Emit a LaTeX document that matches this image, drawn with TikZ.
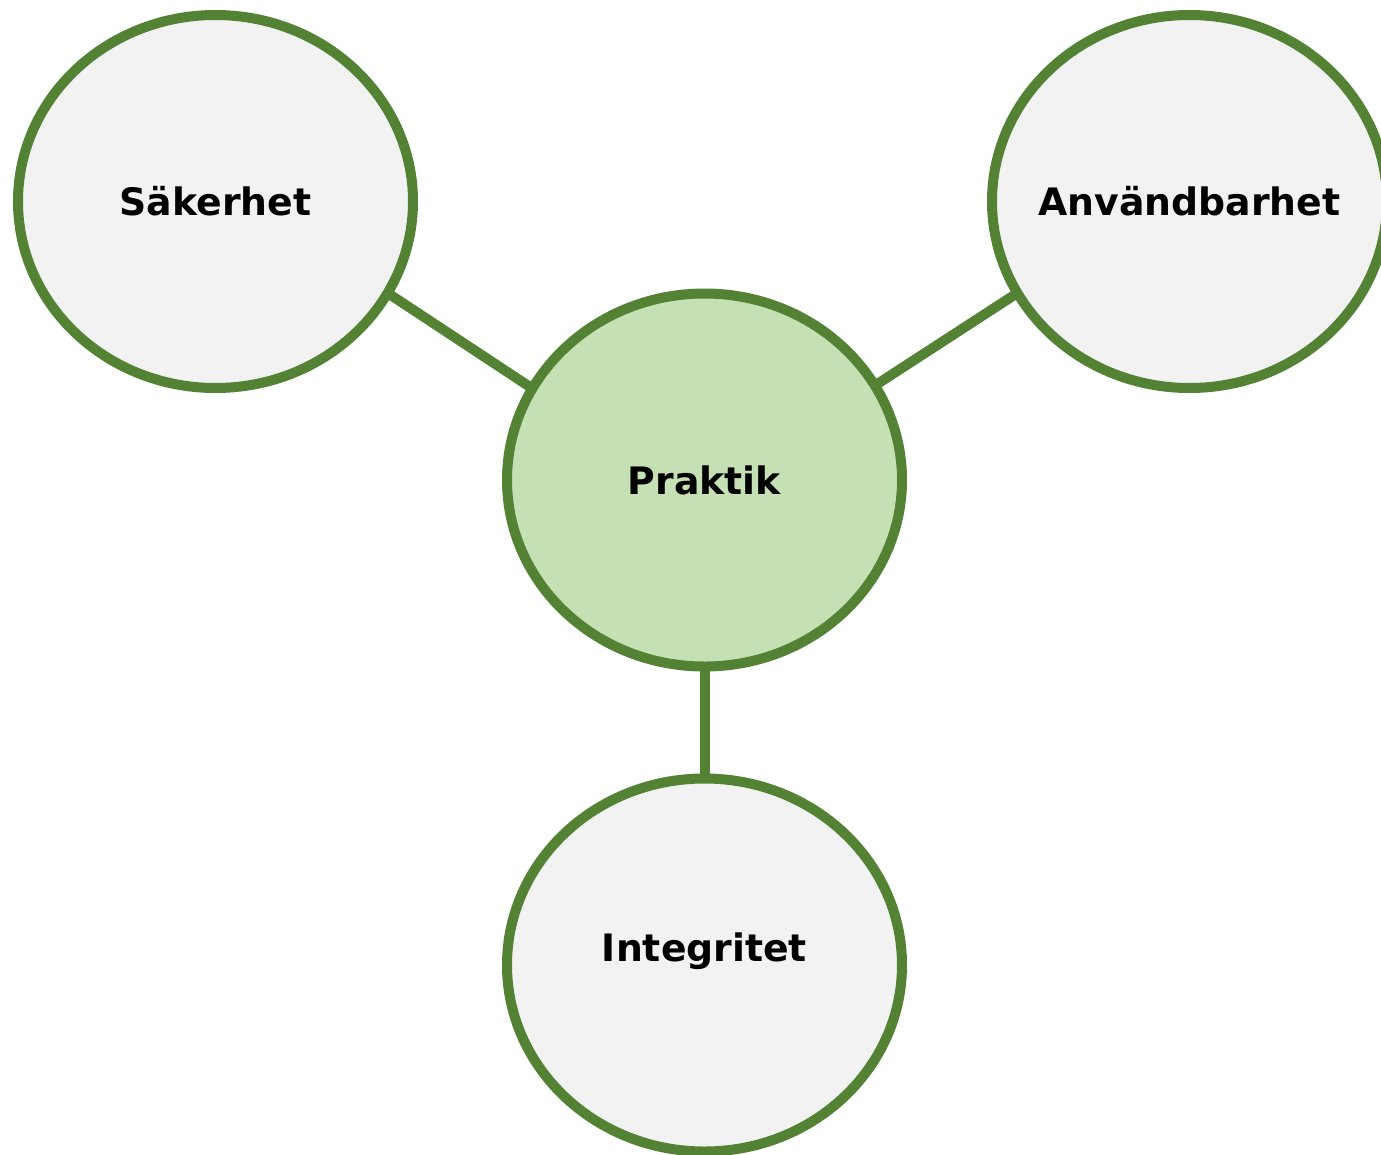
\documentclass[tikz,border=0pt]{standalone}
\usepackage{fontspec}
\setmainfont{DejaVu Sans}
\usetikzlibrary{shapes.geometric, positioning}
\definecolor{ringgreen}{HTML}{548235}
\definecolor{palegreen}{HTML}{C5E0B4}
\definecolor{palegrey}{HTML}{F2F2F2}

\begin{document}
\begin{tikzpicture}[align=center,node distance=9.7cm]
\tikzstyle{topic}=[ellipse,draw=ringgreen,line width=0.2cm,fill=palegrey,
  minimum width=7.9cm,minimum height=7.46cm,inner ysep=0pt,inner xsep=-1cm,outer sep=0pt,
  font=\fontsize{21.5}{25}\selectfont\bfseries]
\tikzstyle{core}=[topic,fill=palegreen]
\tikzstyle{link}=[-,draw=ringgreen,line width=0.2cm]

\useasboundingbox (0,0) rectangle (27.62,-23.08);

\node[core] (prak) at (14.09,-9.6) {Praktik};
\node[topic] (sak) at (4.31,-4.03) {\raisebox{-0.2cm}{Säkerhet}};
\node[topic] (anv) at (23.79,-4.03) {Användbarhet};
\node[topic] (integ) [below of = prak] {\raisebox{0.7cm}{Integritet}};

\path
  (sak.-28) edge [link] (prak.152)
  (anv.208) edge [link] (prak.29)
  (prak.south) edge [link] (integ.north);
\end{tikzpicture}
\end{document}
